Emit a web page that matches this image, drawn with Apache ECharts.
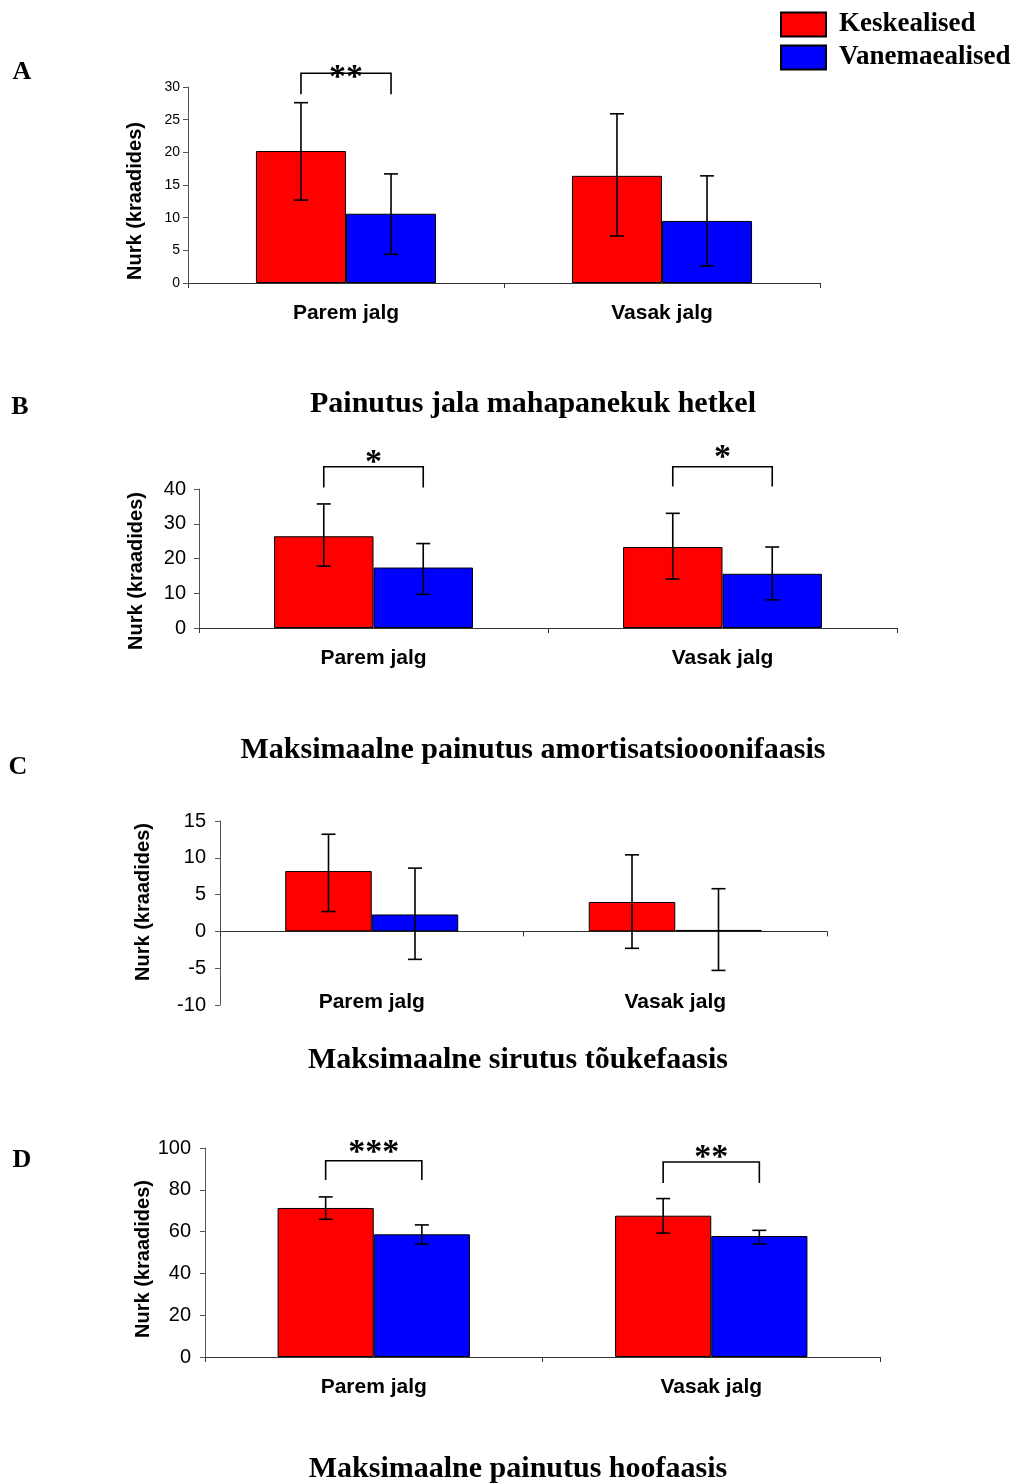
<!DOCTYPE html>
<html>
<head>
<meta charset="utf-8">
<script src="https://cdn.jsdelivr.net/npm/echarts@6/dist/echarts.min.js"></script>
<style>html,body{margin:0;padding:0;background:#fff}#c{width:1018px;height:1484px}</style>
</head>
<body>
<div id="c"></div>
<script>
// ---------- data ----------
const categories = ['Parem jalg', 'Vasak jalg'];
const seriesNames = ['Keskealised', 'Vanemaealised'];
const yAxisTitle = 'Nurk (kraadides)';
const panelLetters = ['A', 'B', 'C', 'D'];
const panelCaptions = ['Painutus jala mahapanekuk hetkel', 'Maksimaalne painutus amortisatsiooonifaasis', 'Maksimaalne sirutus tõukefaasis', 'Maksimaalne painutus hoofaasis'];

// Panel A
const aKesk = [20.2, 16.4], aKeskLow = [12.7, 7.2], aKeskHigh = [27.6, 25.9];
const aVan = [10.6, 9.5], aVanLow = [4.4, 2.6], aVanHigh = [16.7, 16.4];
// Panel B
const bKesk = [26.4, 23.3], bKeskLow = [17.8, 14.1], bKeskHigh = [35.7, 33.0];
const bVan = [17.4, 15.6], bVanLow = [9.7, 8.1], bVanHigh = [24.3, 23.3];
// Panel C
const cKesk = [8.2, 4.0], cKeskLow = [2.7, -2.3], cKeskHigh = [13.2, 10.4];
const cVan = [2.3, 0.2], cVanLow = [-3.8, -5.3], cVanHigh = [8.6, 5.8];
// Panel D
const dKesk = [71.3, 67.6], dKeskLow = [65.9, 59.3], dKeskHigh = [76.6, 75.8];
const dVan = [58.7, 57.9], dVanLow = [54.1, 54.1], dVanHigh = [63.2, 60.6];

// y tick ranges
const aTicks = [0, 30, 5], bTicks = [0, 40, 10], cTicks = [-10, 15, 5], dTicks = [0, 100, 20];

// significance brackets: category, leg end level, bracket level, star level, stars
const aSigCat = [0], aSigLeg = [28.9], aSigTop = [32.1], aSigStar = [32.6], aSigText = ['**'];
const bSigCat = [0, 1], bSigLeg = [40.4, 40.7], bSigTop = [46.4, 46.4], bSigStar = [49.8, 51.2], bSigText = ['*', '*'];
const cSigCat = [], cSigLeg = [], cSigTop = [], cSigStar = [], cSigText = [];
const dSigCat = [0, 1], dSigLeg = [84.7, 83.3], dSigTop = [93.9, 93.3], dSigStar = [101.4, 98.7], dSigText = ['***', '**'];

// ---------- layout ----------
const BAR_FRAC = 0.285; // each bar width as fraction of category band
const panels = [
  {grid: {left: 188, top: 87, width: 632, height: 196}, ticks: aTicks, fs: 14, margin: 8,
   kesk: aKesk, kLo: aKeskLow, kHi: aKeskHigh, van: aVan, vLo: aVanLow, vHi: aVanHigh,
   sig: [aSigCat, aSigLeg, aSigTop, aSigStar, aSigText], nameX: 135, nameY: 201},
  {grid: {left: 199, top: 489, width: 698, height: 139}, ticks: bTicks, fs: 20, margin: 13,
   kesk: bKesk, kLo: bKeskLow, kHi: bKeskHigh, van: bVan, vLo: bVanLow, vHi: bVanHigh,
   sig: [bSigCat, bSigLeg, bSigTop, bSigStar, bSigText], nameX: 136, nameY: 571},
  {grid: {left: 220, top: 821, width: 607, height: 184}, ticks: cTicks, fs: 20, margin: 14,
   kesk: cKesk, kLo: cKeskLow, kHi: cKeskHigh, van: cVan, vLo: cVanLow, vHi: cVanHigh,
   sig: [cSigCat, cSigLeg, cSigTop, cSigStar, cSigText], nameX: 143, nameY: 902, lowLabels: true},
  {grid: {left: 205, top: 1148, width: 675, height: 209}, ticks: dTicks, fs: 20, margin: 14,
   kesk: dKesk, kLo: dKeskLow, kHi: dKeskHigh, van: dVan, vLo: dVanLow, vHi: dVanHigh,
   sig: [dSigCat, dSigLeg, dSigTop, dSigStar, dSigText], nameX: 143, nameY: 1259}
];
const letterPos = [[22, 72], [20, 407], [18, 767], [22, 1160]];
const captionPos = [[533, 404], [533, 750], [518, 1060], [518, 1469]];

const grids = [], xAxes = [], yAxes = [], series = [], graphics = [];
const LABEL_FONT = {fontFamily: 'Liberation Sans', fontWeight: 'bold', fontSize: 21, color: '#000'};

function errRender(side) {
  return function (params, api) {
    const cat = api.value(0);
    const p1 = api.coord([cat, api.value(1)]);
    const p2 = api.coord([cat, api.value(2)]);
    const bw = api.size([1, 0])[0] * BAR_FRAC;
    const x = p1[0] + side * bw / 2;
    const cap = 7, st = {stroke: '#000', lineWidth: 1.6};
    return {type: 'group', children: [
      {type: 'line', shape: {x1: x, y1: p1[1], x2: x, y2: p2[1]}, style: st},
      {type: 'line', shape: {x1: x - cap, y1: p1[1], x2: x + cap, y2: p1[1]}, style: st},
      {type: 'line', shape: {x1: x - cap, y1: p2[1], x2: x + cap, y2: p2[1]}, style: st}
    ]};
  };
}
function sigRender(texts) {
  return function (params, api) {
    const cat = api.value(0);
    const leg = api.coord([cat, api.value(1)]);
    const top = api.coord([cat, api.value(2)]);
    const star = api.coord([cat, api.value(3)]);
    const off = api.size([1, 0])[0] * BAR_FRAC / 2;
    const xl = leg[0] - off, xr = leg[0] + off;
    return {type: 'group', children: [
      {type: 'polyline', shape: {points: [[xl, leg[1]], [xl, top[1]], [xr, top[1]], [xr, leg[1]]]},
       style: {stroke: '#000', lineWidth: 1.6, fill: null}},
      {type: 'text', x: leg[0], y: star[1] + 8,
       style: {text: texts[params.dataIndex], fill: '#000', font: 'bold 34px "Liberation Serif"', align: 'center', verticalAlign: 'middle'}}
    ]};
  };
}

let xi = 0;
panels.forEach((p, i) => {
  grids.push(Object.assign({}, p.grid));
  xAxes.push({
    type: 'category', gridIndex: i, data: categories, position: 'bottom',
    axisLine: {show: true, onZero: true, lineStyle: {color: '#333', width: 1}},
    axisTick: {show: true, length: 5, lineStyle: {color: '#333'}},
    axisLabel: p.lowLabels ? {show: false} : Object.assign({margin: 20}, LABEL_FONT),
    splitLine: {show: false}
  });
  const mainX = xi++;
  if (p.lowLabels) {
    xAxes.push({
      type: 'category', gridIndex: i, data: categories, position: 'bottom',
      axisLine: {show: false, onZero: false}, axisTick: {show: false},
      axisLabel: Object.assign({margin: -13}, LABEL_FONT), splitLine: {show: false}
    });
    xi++;
  }
  yAxes.push({
    type: 'value', gridIndex: i, min: p.ticks[0], max: p.ticks[1], interval: p.ticks[2],
    axisLine: {show: true, lineStyle: {color: '#555'}},
    axisTick: {show: true, length: 5, lineStyle: {color: '#555'}},
    axisLabel: {fontFamily: 'Liberation Sans', fontSize: p.fs, color: '#000', margin: p.margin},
    splitLine: {show: false}
  });
  const common = {type: 'bar', xAxisIndex: mainX, yAxisIndex: i, barGap: '0%', barCategoryGap: '43%'};
  series.push(Object.assign({name: seriesNames[0], data: p.kesk, itemStyle: {color: '#ff0000', borderColor: '#000', borderWidth: 1}}, common));
  series.push(Object.assign({name: seriesNames[1], data: p.van, itemStyle: {color: '#0000ff', borderColor: '#000', borderWidth: 1}}, common));
  series.push({type: 'custom', name: 'errK' + i, xAxisIndex: mainX, yAxisIndex: i, z: 5, renderItem: errRender(-1),
    encode: {x: 0, y: [1, 2]}, data: categories.map((c, j) => [j, p.kLo[j], p.kHi[j]])});
  series.push({type: 'custom', name: 'errV' + i, xAxisIndex: mainX, yAxisIndex: i, z: 5, renderItem: errRender(1),
    encode: {x: 0, y: [1, 2]}, data: categories.map((c, j) => [j, p.vLo[j], p.vHi[j]])});
  if (p.sig[0].length) {
    series.push({type: 'custom', name: 'sig' + i, xAxisIndex: mainX, yAxisIndex: i, z: 6, clip: false,
      renderItem: sigRender(p.sig[4]), encode: {x: 0, y: [1, 2]},
      data: p.sig[0].map((c, j) => [c, p.sig[1][j], p.sig[2][j], p.sig[3][j]])});
  }
  graphics.push({type: 'text', x: p.nameX, y: p.nameY, rotation: Math.PI / 2,
    style: {text: yAxisTitle, font: 'bold 20px "Liberation Sans"', fill: '#000', align: 'center', verticalAlign: 'middle'}});
  graphics.push({type: 'text', x: letterPos[i][0], y: letterPos[i][1],
    style: {text: panelLetters[i], font: 'bold 26px "Liberation Serif"', fill: '#000', align: 'center', verticalAlign: 'middle'}});
  graphics.push({type: 'text', x: captionPos[i][0], y: captionPos[i][1],
    style: {text: panelCaptions[i], font: 'bold 30px "Liberation Serif"', fill: '#000', align: 'center', verticalAlign: 'middle'}});
});

const chart = echarts.init(document.getElementById('c'), null, {renderer: 'canvas'});
chart.setOption({
  animation: false,
  backgroundColor: '#fff',
  textStyle: {fontFamily: 'Liberation Sans'},
  legend: {
    data: seriesNames, orient: 'vertical', left: 780, top: 11, itemWidth: 45, itemHeight: 24, itemGap: 6,
    icon: 'rect', padding: 0,
    textStyle: {fontFamily: 'Liberation Serif', fontWeight: 'bold', fontSize: 27, color: '#000', padding: [0, 0, 0, 8]}
  },
  grid: grids, xAxis: xAxes, yAxis: yAxes, series: series, graphic: graphics
});
</script>
</body>
</html>
